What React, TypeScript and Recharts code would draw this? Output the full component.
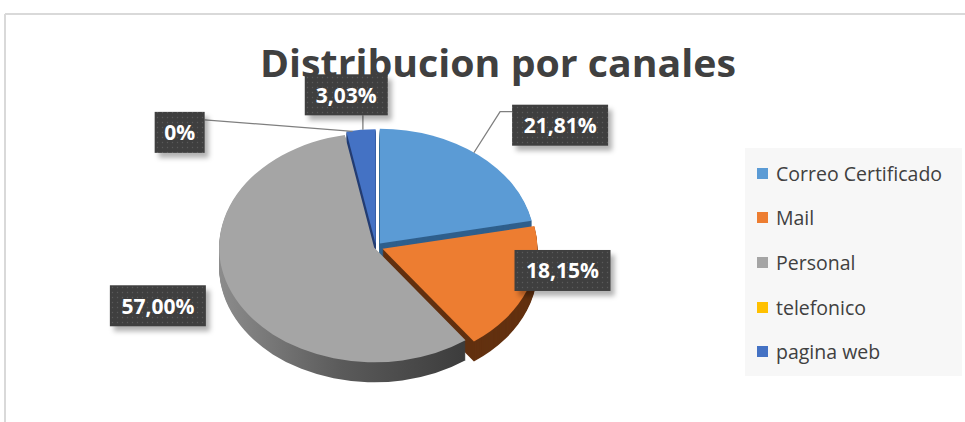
import { PieChart, Pie, Sector, Legend } from 'recharts';

const categories = ['Correo Certificado', 'Mail', 'Personal', 'telefonico', 'pagina web'];
const shares = [21.81, 18.15, 57.0, 0, 3.03];

const COLORS = ['#5B9BD5', '#ED7D31', '#A5A5A5', '#FFC000', '#4472C4'];
const WALLS = ['#2F5F8C', '#633110', 'url(#grayWall)', '#7F6000', '#243E73'];
const EXPLODE = [6, 7, 2, 0, 4];
// label box offsets from the slice edge, Excel "best fit" style
const LABEL_POS = [
  { dx: 86, dy: -33 },
  { dx: 42, dy: -18 },
  { dx: -76, dy: 13 },
  { dx: -167, dy: -2 },
  { dx: -15, dy: -38 },
];

const data = categories.map((name, i) => ({ name, value: shares[i] }));

const CX = 376;
const CY = 247;
const R = 155;
const K = 0.74;
const DEPTH = 20;
const RAD = Math.PI / 180;

const fmt = (v: number) => (v === 0 ? '0%' : v.toFixed(2).replace('.', ',') + '%');

function idxOf(props: any) {
  const name = props.name ?? props.payload?.name;
  return categories.indexOf(name);
}

function squash(cy: number, extra = 0) {
  return `translate(0 ${extra}) translate(0 ${cy}) scale(1 ${K}) translate(0 ${-cy})`;
}

function shifted(props: any) {
  const e = EXPLODE[idxOf(props)] || 0;
  return {
    cx: props.cx + e * Math.cos(-props.midAngle * RAD),
    cy: props.cy + e * Math.sin(-props.midAngle * RAD),
  };
}

function TopShape(props: any) {
  const i = idxOf(props);
  const c = shifted(props);
  return (
    <g transform={squash(props.cy)}>
      <Sector {...props} cx={c.cx} cy={c.cy} fill={COLORS[i]} stroke="none" />
    </g>
  );
}

function WallShape(props: any) {
  const i = idxOf(props);
  const c = shifted(props);
  const steps = Array.from({ length: DEPTH }, (_, d) => DEPTH - d);
  return (
    <g>
      {steps.map((d) => (
        <g key={d} transform={squash(props.cy, d)}>
          <Sector {...props} cx={c.cx} cy={c.cy} fill={WALLS[i]} stroke="none" />
        </g>
      ))}
    </g>
  );
}

function renderLabel(props: any) {
  const i = idxOf(props);
  const a = props.midAngle * RAD;
  const e = EXPLODE[i] || 0;
  const ex = props.cx + props.outerRadius * Math.cos(a);
  const ey = props.cy - props.outerRadius * Math.sin(a) * K;
  const sx = ex + e * Math.cos(a);
  const sy = ey - e * Math.sin(a) * K;
  const lx = ex + LABEL_POS[i].dx;
  const ly = ey + LABEL_POS[i].dy;
  const text = fmt(shares[i]);
  const w = Math.max(50, text.length * 13 + 18);
  const h = 41;
  const bx = lx - w / 2;
  const by = ly - h / 2;
  let line: string | null = null;
  if (i === 0) line = `${sx - 4},${sy - 2} ${bx - 12},${by + 7} ${bx},${by + 7}`;
  if (i === 3) line = `${sx + 6},${sy - 3} ${bx + w},${by + 8}`;
  if (i === 4) line = `${sx + 2},${by + h} ${sx + 2},${sy}`;
  return (
    <g key={`lbl-${i}`}>
      {line && <polyline points={line} fill="none" stroke="#7F7F7F" strokeWidth={1.3} />}
      <rect x={bx + 4} y={by + 5} width={w} height={h} fill="rgba(0,0,0,0.3)" filter="url(#blur)" />
      <rect x={bx} y={by} width={w} height={h} fill="url(#dots)" />
      <text
        x={lx}
        y={ly + 8}
        textAnchor="middle"
        fill="#FFFFFF"
        fontFamily="'Open Sans', sans-serif"
        fontWeight={700}
        fontSize={21}
      >
        {text}
      </text>
    </g>
  );
}

function LegendBox() {
  return (
    <div
      style={{
        width: 217,
        height: 228,
        background: '#F7F7F7',
        paddingTop: 3,
        boxSizing: 'border-box',
        fontFamily: "'Open Sans', sans-serif",
        fontSize: 19.5,
        color: '#404040',
      }}
    >
      {categories.map((c, i) => (
        <div key={c} style={{ display: 'flex', alignItems: 'center', height: 44.6, paddingLeft: 12 }}>
          <span style={{ width: 11, height: 11, background: COLORS[i], marginRight: 8, display: 'inline-block' }} />
          <span>{c}</span>
        </div>
      ))}
    </div>
  );
}

export default function App() {
  return (
    <div style={{ position: 'absolute', left: 0, top: 0, width: 965, height: 422, background: '#FFFFFF', overflow: 'hidden' }}>
      <svg style={{ position: 'absolute', left: 0, top: 0 }} width={965} height={422}>
        <line x1={5} y1={14} x2={965} y2={14} stroke="#D9D9D9" strokeWidth={2} />
        <line x1={5} y1={14} x2={5} y2={422} stroke="#D9D9D9" strokeWidth={2} />
        <text
          x={498}
          y={77}
          textAnchor="middle"
          fontFamily="'Open Sans', sans-serif"
          fontWeight={700}
          fontSize={38}
          fill="#404040"
          textLength={476}
          lengthAdjust="spacingAndGlyphs"
        >
          Distribucion por canales
        </text>
      </svg>
      <div style={{ position: 'absolute', left: 0, top: 0 }}>
        <PieChart width={965} height={422} margin={{ top: 0, right: 0, bottom: 0, left: 0 }}>
          <defs>
            <linearGradient id="grayWall" x1="0" y1="0" x2="1" y2="0">
              <stop offset="0%" stopColor="#8C8C8C" />
              <stop offset="50%" stopColor="#5A5A5A" />
              <stop offset="100%" stopColor="#3C3C3C" />
            </linearGradient>
            <pattern id="dots" width="5" height="5" patternUnits="userSpaceOnUse">
              <rect width="5" height="5" fill="#3F3F3F" />
              <circle cx="2.5" cy="2.5" r="0.7" fill="#5A5A5A" />
            </pattern>
            <filter id="blur" x="-20%" y="-20%" width="140%" height="140%">
              <feGaussianBlur stdDeviation="2.5" />
            </filter>
          </defs>
          <Pie
            data={data}
            dataKey="value"
            nameKey="name"
            cx={CX}
            cy={CY}
            outerRadius={R}
            startAngle={90}
            endAngle={-270}
            stroke="none"
            shape={WallShape}
            activeShape={WallShape}
            inactiveShape={WallShape}
            isAnimationActive={false}
            legendType="none"
          />
          <Pie
            data={data}
            dataKey="value"
            nameKey="name"
            cx={CX}
            cy={CY}
            outerRadius={R}
            startAngle={90}
            endAngle={-270}
            stroke="none"
            shape={TopShape}
            activeShape={TopShape}
            inactiveShape={TopShape}
            label={renderLabel}
            labelLine={false}
            isAnimationActive={false}
          />
          <Legend
            layout="vertical"
            align="right"
            verticalAlign="top"
            wrapperStyle={{ left: 745, top: 148, width: 217 }}
            content={() => <LegendBox />}
          />
        </PieChart>
      </div>
    </div>
  );
}
